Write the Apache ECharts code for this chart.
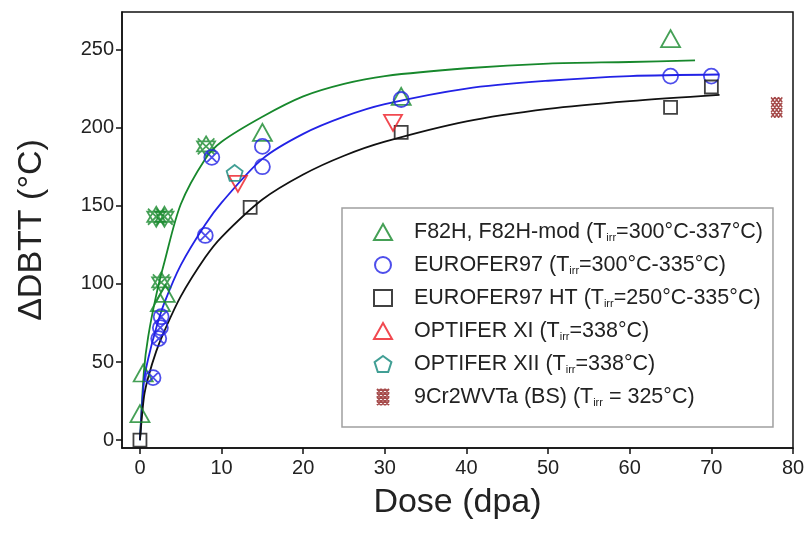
<!DOCTYPE html>
<html>
<head>
<meta charset="utf-8">
<script src="https://cdn.jsdelivr.net/npm/echarts@6/dist/echarts.min.js"></script>
<style>
  html, body { margin: 0; padding: 0; background: #fff; }
  #chart { width: 810px; height: 543px; }
</style>
</head>
<body>
<div id="chart"></div>
<script>
// axis ticks
const doseTicks = [0, 10, 20, 30, 40, 50, 60, 70, 80];
const dbttTicks = [0, 50, 100, 150, 200, 250];

// measured points (dose in dpa, ΔDBTT in °C)
const f82hDose = [0, 0.4, 2.5, 3.1, 15, 32, 65];
const f82hDbtt = [17, 43, 88, 94, 197, 220, 257];
// overlapping F82H points drawn as star + cross
const f82hStarDose = [2, 3, 2.6, 8.1];
const f82hStarDbtt = [143, 143, 101, 188];

const euroDose = [15, 15, 32, 65, 70];
const euroDbtt = [188, 175, 218, 233, 233];
// EUROFER97 points drawn as crossed circles
const euroCrossDose = [1.6, 2.3, 2.5, 2.6, 8, 8.8];
const euroCrossDbtt = [40, 65, 72, 79, 131, 181];

const euroHtDose = [0, 13.5, 32, 65, 70];
const euroHtDbtt = [0, 149, 197, 213, 226];

const optXiDose = [12, 31];
const optXiDbtt = [164, 203];

const optXiiDose = [11.6];
const optXiiDbtt = [171];

const bsDose = [78];
const bsDbtt = [213];

// fit curves
const fitDoseGreen = [0, 0.5, 1, 2, 3, 5, 8, 10, 15, 20, 25, 30, 40, 50, 60, 68];
const fitGreen     = [0, 45, 66, 93, 114, 151, 180, 191, 207, 220, 228, 233, 238, 241, 242, 243];
const fitDoseLong  = [0, 0.5, 1, 2, 3, 5, 8, 10, 15, 20, 25, 30, 40, 50, 60, 71];
const fitBlue      = [0, 38, 52, 72, 88, 112, 138, 152, 180, 196, 207, 215, 225, 230, 233, 234];
const fitBlack     = [0, 28, 40, 57, 70, 92, 117, 130, 154, 170, 182, 191, 204, 212, 217, 221];

const seriesNames = ['F82H, F82H-mod', 'EUROFER97', 'EUROFER97 HT', 'OPTIFER XI', 'OPTIFER XII', '9Cr2WVTa (BS)'];
const seriesTemps = ['=300°C-337°C', '=300°C-335°C', '=250°C-335°C', '=338°C', '=338°C', ' = 325°C'];

const GREEN = '#17882c';
const BLUE = '#2222e6';
const BLACK = '#111111';
const RED = '#ee1c24';
const TEAL = '#12877a';
const DARKRED = '#8e1b1b';
const FONT = 'Liberation Sans, Arial, sans-serif';

const zip = (xs, ys) => xs.map((x, i) => [x, ys[i]]);

const STAR = 'path://M0,-10L8.66,5L-8.66,5Z M0,10L8.66,-5L-8.66,-5Z M-8,-8L8,8 M8,-8L-8,8';
const CROSS_CIRCLE = 'path://M0,-10A10,10,0,1,1,0,10A10,10,0,1,1,0,-10Z M-7.07,-7.07L7.07,7.07 M7.07,-7.07L-7.07,7.07';
const PENTAGON = 'path://M0,-10L9.51,-3.09L5.88,8.09L-5.88,8.09L-9.51,-3.09Z';
const LATTICE = 'path://M0,5L5,0 M0,10L10,0 M0,15L15,0 M0,20L15,5 M5,20L15,10 M10,20L15,15'
  + ' M10,0L15,5 M5,0L15,10 M0,0L15,15 M0,5L15,20 M0,10L10,20 M0,15L5,20';

const hollow = (c) => ({ color: 'rgba(0,0,0,0)', borderColor: c, borderWidth: 1.8 });

const scatter = (name, data, symbol, size, color, extra) => Object.assign({
  name, type: 'scatter', data, symbol, symbolSize: size,
  itemStyle: hollow(color), z: 5,
}, extra || {});

const fit = (name, xs, ys, color) => ({
  name, type: 'line', data: zip(xs, ys), showSymbol: false, symbol: 'none',
  smooth: 0.3,
  lineStyle: { color, width: 1.8 }, z: 2, silent: true,
});

const f82hData = zip(f82hDose, f82hDbtt).concat(
  zip(f82hStarDose, f82hStarDbtt).map(v => ({ value: v, symbol: STAR, symbolSize: [18, 20] }))
);
const euroData = zip(euroDose, euroDbtt).concat(
  zip(euroCrossDose, euroCrossDbtt).map(v => ({ value: v, symbol: CROSS_CIRCLE, symbolSize: 15 }))
);

const chart = echarts.init(document.getElementById('chart'), null, { renderer: 'canvas' });

chart.setOption({
  backgroundColor: '#fff',
  animation: false,
  textStyle: { fontFamily: FONT },
  grid: {
    left: 122, right: 17, top: 12, bottom: 95,
    show: true, borderColor: '#111', borderWidth: 1.5,
  },
  legend: {
    data: seriesNames,
    orient: 'vertical',
    left: 342, top: 208,
    padding: [13, 10, 19, 31],
    itemWidth: 18, itemHeight: 16, itemGap: 11,
    borderColor: '#a0a0a0', borderWidth: 1.5,
    backgroundColor: '#fff',
    formatter: (name) => `${name} (T{sub|irr}${seriesTemps[seriesNames.indexOf(name)]})`,
    textStyle: {
      fontFamily: FONT, fontSize: 21.5, color: '#222', lineHeight: 22, padding: [0, 0, 0, 17],
      rich: { sub: { fontFamily: FONT, fontSize: 11, verticalAlign: 'bottom', lineHeight: 12, padding: [10, 0, 0, 0] } },
    },
  },
  xAxis: {
    type: 'value', min: -2.2, max: 80,
    name: 'Dose (dpa)', nameLocation: 'middle', nameGap: 38,
    nameTextStyle: { fontFamily: FONT, fontSize: 34, color: '#222' },
    axisLine: { onZero: false, lineStyle: { color: '#111', width: 1.5 } },
    axisTick: { show: true, inside: false, length: 6, customValues: doseTicks, lineStyle: { color: '#111', width: 1.5 } },
    axisLabel: { customValues: doseTicks, margin: 10, fontFamily: FONT, fontSize: 20, color: '#222' },
    splitLine: { show: false },
  },
  yAxis: {
    type: 'value', min: -5, max: 274,
    name: 'ΔDBTT (°C)', nameLocation: 'middle', nameGap: 73, nameRotate: 90,
    nameTextStyle: { fontFamily: FONT, fontSize: 34, color: '#222' },
    axisLine: { show: true, onZero: false, lineStyle: { color: '#111', width: 1.5 } },
    axisTick: { show: true, inside: false, length: 6, customValues: dbttTicks, lineStyle: { color: '#111', width: 1.5 } },
    axisLabel: { customValues: dbttTicks, margin: 8, fontFamily: FONT, fontSize: 20, color: '#222' },
    splitLine: { show: false },
  },
  series: [
    fit('fit F82H', fitDoseGreen, fitGreen, GREEN),
    fit('fit EUROFER97', fitDoseLong, fitBlue, BLUE),
    fit('fit EUROFER97 HT', fitDoseLong, fitBlack, BLACK),
    scatter(seriesNames[0], f82hData, 'triangle', [19, 17], GREEN),
    scatter(seriesNames[1], euroData, 'circle', 15, BLUE),
    scatter(seriesNames[2], zip(euroHtDose, euroHtDbtt), 'rect', 13, BLACK),
    scatter(seriesNames[3], zip(optXiDose, optXiDbtt), 'triangle', [18, 16], RED, { symbolRotate: 180 }),
    scatter(seriesNames[4], zip(optXiiDose, optXiiDbtt), PENTAGON, 16, TEAL),
    scatter(seriesNames[5], zip(bsDose, bsDbtt), LATTICE, [15, 20], DARKRED,
      { symbolKeepAspect: true, itemStyle: { color: 'rgba(0,0,0,0)', borderColor: DARKRED, borderWidth: 1.6 } }),
  ],
});
</script>
</body>
</html>
